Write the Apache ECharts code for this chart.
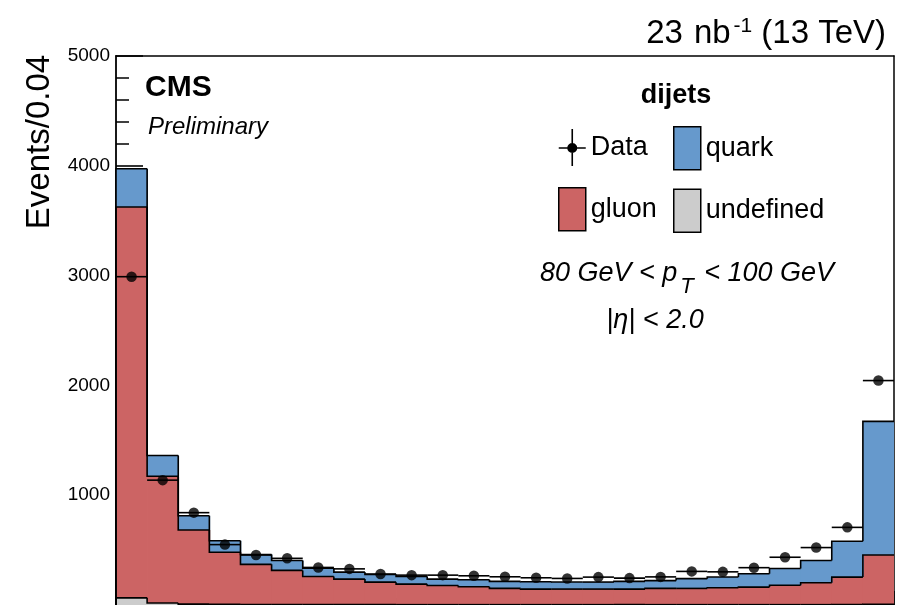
<!DOCTYPE html>
<html>
<head>
<meta charset="utf-8">
<script src="https://cdn.jsdelivr.net/npm/echarts@6/dist/echarts.min.js"></script>
<style>
  html, body { margin: 0; padding: 0; background: #fff; }
  #chart { width: 911px; height: 605px; }
</style>
</head>
<body>
<div id="chart"></div>
<script>
// Quark/gluon likelihood distribution, bins of width 0.04 on [0, 1]
const binLow = [0.00, 0.04, 0.08, 0.12, 0.16, 0.20, 0.24, 0.28, 0.32, 0.36,
                0.40, 0.44, 0.48, 0.52, 0.56, 0.60, 0.64, 0.68, 0.72, 0.76,
                0.80, 0.84, 0.88, 0.92, 0.96];
const binWidth = 0.04;

// Simulation, stacked bottom to top: undefined, gluon, quark
const undefinedCounts = [65, 18, 8, 6, 5, 4, 4, 3, 3, 3, 3, 3, 3, 3, 3, 3, 3, 3, 3, 3, 3, 3, 3, 4, 6];
const gluonCounts = [3560, 1155, 675, 474, 365, 311, 256, 233, 205, 187, 175, 163, 148, 142, 142,
                     142, 142, 148, 148, 154, 160, 177, 200, 250, 450];
const quarkCounts = [348, 188, 130, 105, 90, 90, 76, 63, 70, 70, 58, 64, 64, 67, 64,
                     64, 70, 71, 89, 98, 122, 153, 202, 326, 1216];

// Collision data
const dataCounts = [2990, 1137, 841, 550, 455, 425, 342, 329, 283, 272, 272, 266, 257, 248, 242,
                    254, 245, 256, 306, 302, 340, 435, 523, 707, 2044];

// Y axis range and tick step
const yMin = 0, yMax = 5000, yStep = 1000;

const FONT = '"Liberation Sans", Arial, Helvetica, sans-serif';
const BLACK = '#000000';

const layers = [
  { name: 'undefined', values: undefinedCounts, color: '#cccccc' },
  { name: 'gluon', values: gluonCounts, color: '#cc6464' },
  { name: 'quark', values: quarkCounts, color: '#6699cc' }
];

// Build stacked rows: [low edge, high edge, bottom, top, previous bin top]
let running = binLow.map(() => 0);
const stackedRows = layers.map(layer => {
  const rows = binLow.map((lo, i) => {
    const bottom = running[i];
    const top = bottom + layer.values[i];
    return [lo, lo + binWidth, bottom, top];
  });
  running = rows.map(r => r[3]);
  return rows.map((r, i) => r.concat([i === 0 ? 0 : rows[i - 1][3]]));
});

function renderFill(params, api) {
  const pTop = api.coord([api.value(0), api.value(3)]);
  const pBot = api.coord([api.value(1), api.value(2)]);
  const isLast = params.dataIndex === binLow.length - 1;
  return {
    type: 'rect',
    shape: {
      x: pTop[0],
      y: pTop[1],
      width: pBot[0] - pTop[0] + (isLast ? 0 : 0.8),
      height: pBot[1] - pTop[1]
    },
    style: { fill: api.visual('color') }
  };
}

function renderOutline(params, api) {
  const a = api.coord([api.value(0), api.value(4)]);
  const b = api.coord([api.value(0), api.value(3)]);
  const c = api.coord([api.value(1), api.value(3)]);
  return {
    type: 'polyline',
    shape: { points: [a, b, c] },
    style: { stroke: BLACK, lineWidth: 1.6, fill: null }
  };
}

function renderErrorBar(params, api) {
  const a = api.coord([api.value(0), api.value(2)]);
  const b = api.coord([api.value(1), api.value(2)]);
  return {
    type: 'line',
    shape: { x1: a[0], y1: a[1], x2: b[0], y2: b[1] },
    style: { stroke: BLACK, lineWidth: 1.6 }
  };
}

const series = [];
layers.forEach((layer, k) => {
  series.push({
    name: layer.name,
    type: 'custom',
    renderItem: renderFill,
    itemStyle: { color: layer.color },
    encode: { x: [0, 1], y: [2, 3] },
    data: stackedRows[k],
    z: 2,
    silent: true
  });
});
layers.forEach((layer, k) => {
  series.push({
    name: layer.name + ' outline',
    type: 'custom',
    renderItem: renderOutline,
    encode: { x: [0, 1], y: [3, 4] },
    data: stackedRows[k],
    z: 3,
    silent: true
  });
});
series.push({
  name: 'Data',
  type: 'custom',
  renderItem: renderErrorBar,
  itemStyle: { color: BLACK },
  encode: { x: [0, 1], y: 2 },
  data: binLow.map((lo, i) => [lo, lo + binWidth, dataCounts[i]]),
  z: 4,
  silent: true
});
series.push({
  name: 'Data',
  type: 'scatter',
  symbol: 'circle',
  symbolSize: 10.5,
  itemStyle: { color: BLACK },
  data: binLow.map((lo, i) => [lo + binWidth / 2, dataCounts[i]]),
  z: 5,
  silent: true
});

// Marker with horizontal and vertical bars for the data legend entry;
// two tiny corner specks pin the icon box to the full 27x43 legend slot
const dataIcon = 'path://M0,0 L0.01,0 L0.01,0.01 Z M27,43 L26.99,43 L26.99,42.99 Z ' +
                 'M0,21.2 L27,21.2 L27,22.8 L0,22.8 Z M12.7,3 L14.3,3 L14.3,40 L12.7,40 Z ' +
                 'M18.5,22 A5,5 0 1 1 8.5,22 A5,5 0 1 1 18.5,22 Z';

const legendBase = {
  orient: 'vertical',
  padding: 0,
  itemWidth: 27,
  itemHeight: 43,
  itemGap: 18,
  selectedMode: false,
  icon: 'rect',
  itemStyle: { borderColor: BLACK, borderWidth: 1.5 },
  textStyle: { fontSize: 27, color: BLACK, fontFamily: FONT }
};

const option = {
  animation: false,
  backgroundColor: '#ffffff',
  grid: { left: 116, right: 17, top: 56, bottom: -2, containLabel: false },
  xAxis: [
    {
      type: 'value', min: 0, max: 1, interval: 0.1, position: 'bottom',
      axisLine: { show: true, onZero: false, lineStyle: { color: BLACK, width: 1.6 } },
      axisTick: { show: true, inside: true, length: 14, lineStyle: { color: BLACK, width: 1.5 } },
      minorTick: { show: true, splitNumber: 5, length: 7, lineStyle: { color: BLACK, width: 1.5 } },
      axisLabel: { show: false },
      splitLine: { show: false }
    },
    {
      type: 'value', min: 0, max: 1, position: 'top',
      axisLine: { show: true, onZero: false, lineStyle: { color: BLACK, width: 1.5 } },
      axisTick: { show: false }, axisLabel: { show: false }, splitLine: { show: false }
    }
  ],
  yAxis: [
    {
      type: 'value', min: yMin, max: yMax, interval: yStep, position: 'left',
      axisLine: { show: true, onZero: false, lineStyle: { color: BLACK, width: 1.8 } },
      axisTick: { show: true, inside: true, length: 27, lineStyle: { color: BLACK, width: 1.6 } },
      minorTick: { show: true, splitNumber: 5, length: 13, lineStyle: { color: BLACK, width: 1.5 } },
      axisLabel: {
        color: BLACK, fontSize: 19, fontFamily: FONT, margin: 6,
        formatter: v => (v === 0 ? '' : String(v))
      },
      splitLine: { show: false }
    },
    {
      type: 'value', min: yMin, max: yMax, position: 'right',
      axisLine: { show: true, onZero: false, lineStyle: { color: BLACK, width: 1.5 } },
      axisTick: { show: false }, axisLabel: { show: false }, splitLine: { show: false }
    }
  ],
  legend: [
    Object.assign({}, legendBase, {
      left: 558, top: 126,
      data: [
        { name: 'Data', icon: dataIcon, itemStyle: { color: BLACK, borderWidth: 0 } },
        { name: 'gluon', itemStyle: { color: '#cc6464' } }
      ]
    }),
    Object.assign({}, legendBase, {
      left: 673, top: 126,
      data: [
        { name: 'quark', itemStyle: { color: '#6699cc' } },
        { name: 'undefined', itemStyle: { color: '#cccccc' } }
      ]
    })
  ],
  graphic: [
    {
      type: 'text', x: 40, y: 142, rotation: Math.PI / 2,
      style: { text: 'Events/0.04', fontSize: 33, fontFamily: FONT, fill: BLACK, align: 'center', verticalAlign: 'middle' }
    },
    {
      type: 'text', x: 886, y: 34,
      style: {
        text: '{a|23}{b|nb}{s|-1}{a|(13 TeV)}',
        align: 'right', verticalAlign: 'middle',
        rich: {
          a: { fontSize: 33, fontFamily: FONT, fill: BLACK, lineHeight: 36 },
          b: { fontSize: 33, fontFamily: FONT, fill: BLACK, lineHeight: 36, padding: [0, 0, 0, 11] },
          s: { fontSize: 21, fontFamily: FONT, fill: BLACK, lineHeight: 21, verticalAlign: 'top', padding: [0, 9, 0, 3] }
        }
      }
    },
    {
      type: 'text', x: 145, y: 88,
      style: { text: 'CMS', fontSize: 30, fontWeight: 'bold', fontFamily: FONT, fill: BLACK, align: 'left', verticalAlign: 'middle' }
    },
    {
      type: 'text', x: 148, y: 127,
      style: { text: 'Preliminary', fontSize: 24, fontStyle: 'italic', fontFamily: FONT, fill: BLACK, align: 'left', verticalAlign: 'middle' }
    },
    {
      type: 'text', x: 676, y: 96,
      style: { text: 'dijets', fontSize: 27, fontWeight: 'bold', fontFamily: FONT, fill: BLACK, align: 'center', verticalAlign: 'middle' }
    },
    {
      type: 'text', x: 687, y: 260,
      style: {
        text: '{i|80 GeV < p}{t|T}{i| < 100 GeV}',
        align: 'center', verticalAlign: 'top',
        rich: {
          i: { fontSize: 27, fontStyle: 'italic', fontFamily: FONT, fill: BLACK, lineHeight: 30, verticalAlign: 'top' },
          t: { fontSize: 22, fontStyle: 'italic', fontFamily: FONT, fill: BLACK, lineHeight: 22, verticalAlign: 'top', padding: [16, 3, 0, 3] }
        }
      }
    },
    {
      type: 'text', x: 655, y: 320,
      style: { text: '|η| < 2.0', fontSize: 27, fontStyle: 'italic', fontFamily: FONT, fill: BLACK, align: 'center', verticalAlign: 'middle' }
    }
  ],
  series: series
};

const chart = echarts.init(document.getElementById('chart'), null, { renderer: 'canvas' });
chart.setOption(option);
</script>
</body>
</html>
